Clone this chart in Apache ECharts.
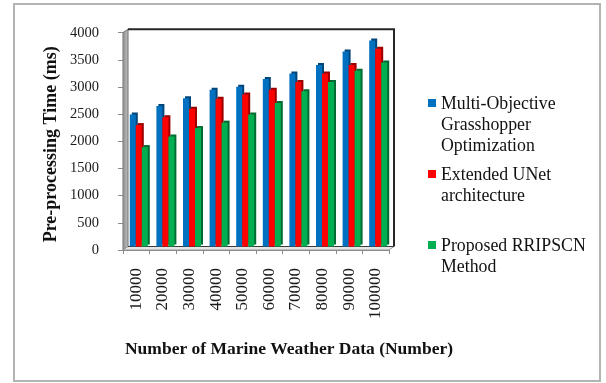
<!DOCTYPE html>
<html>
<head>
<meta charset="utf-8">
<script src="https://cdn.jsdelivr.net/npm/echarts@6/dist/echarts.min.js"></script>
<style>
  html, body { margin: 0; padding: 0; background: #fff; }
  #chart { width: 606px; height: 383px; }
</style>
</head>
<body>
<div id="chart"></div>
<script>
// Data set sizes on the category axis
const categories = ['10000', '20000', '30000', '40000', '50000', '60000', '70000', '80000', '90000', '100000'];

// Pre-processing time (ms) for each method
const mogoTimes  = [2430, 2585, 2730, 2885, 2940, 3085, 3185, 3340, 3590, 3790];
const unetTimes  = [2235, 2380, 2535, 2720, 2800, 2885, 3030, 3185, 3340, 3640];
const rripTimes  = [1830, 2025, 2180, 2280, 2430, 2640, 2860, 3030, 3235, 3385];

const seriesNames = ['Multi-Objective Grasshopper Optimization', 'Extended UNet architecture', 'Proposed RRIPSCN Method'];
const legendLines = {
  'Multi-Objective Grasshopper Optimization': 'Multi-Objective\nGrasshopper\nOptimization',
  'Extended UNet architecture': 'Extended UNet\narchitecture\n ',
  'Proposed RRIPSCN Method': 'Proposed RRIPSCN\nMethod\n '
};

const yMin = 0, yMax = 4000, yStep = 500;

// Layout of the pseudo-3D box: front axis plane and the back wall behind it
const FRONT = { left: 123, top: 32.7, width: 266, height: 217.3 };
const DX = 5, DY = -3.5;
const BACK = { left: FRONT.left + DX, top: FRONT.top + DY, width: FRONT.width, height: FRONT.height };
const BARS = { left: FRONT.left + 2.5, top: BACK.top, width: FRONT.width, height: FRONT.height };

const serif = "'Liberation Serif', 'Times New Roman', serif";
const colors = ['#0070C0', '#FF0000', '#00B050'];
const sideColors = ['#00467a', '#9a0000', '#006b32'];

function barSeries(i, values) {
  return {
    name: seriesNames[i],
    type: 'bar',
    xAxisIndex: 0,
    yAxisIndex: 0,
    data: values,
    barWidth: 6,
    barGap: '0%',
    itemStyle: {
      color: colors[i],
      shadowColor: sideColors[i],
      shadowBlur: 0,
      shadowOffsetX: 2,
      shadowOffsetY: -2
    },
    emphasis: { disabled: true }
  };
}

const fb = FRONT.top + FRONT.height;      // front floor line
const bb = BACK.top + BACK.height;        // back floor line
const br = BACK.left + BACK.width;        // back wall right edge

const chart = echarts.init(document.getElementById('chart'), null, { renderer: 'canvas' });
chart.setOption({
  animation: false,
  backgroundColor: '#ffffff',
  textStyle: { fontFamily: serif },
  grid: [
    { left: BARS.left, top: BARS.top, width: BARS.width, height: BARS.height, containLabel: false },
    { left: FRONT.left, top: FRONT.top, width: FRONT.width, height: FRONT.height, containLabel: false }
  ],
  xAxis: [
    { type: 'category', gridIndex: 0, data: categories, show: false },
    {
      type: 'category', gridIndex: 1, data: categories,
      axisLine: { lineStyle: { color: '#8a8a8a', width: 1 } },
      axisTick: { show: true, interval: 0, length: 4, lineStyle: { color: '#8a8a8a' } },
      axisLabel: { interval: 0, rotate: 90, margin: 18, fontSize: 17, color: '#1a1a1a', fontFamily: serif },
      name: 'Number of Marine Weather Data (Number)',
      nameLocation: 'middle',
      nameGap: 90,
      nameTextStyle: { fontSize: 17.5, fontWeight: 'bold', color: '#111', fontFamily: serif, padding: [0, 0, 0, 66] }
    }
  ],
  yAxis: [
    { type: 'value', gridIndex: 0, min: yMin, max: yMax, interval: yStep, show: false, splitLine: { show: false } },
    {
      type: 'value', gridIndex: 1, min: yMin, max: yMax, interval: yStep,
      axisLine: { show: true, lineStyle: { color: '#8a8a8a', width: 1 } },
      axisTick: { show: true, length: 5, lineStyle: { color: '#8a8a8a' } },
      axisLabel: { margin: 24, fontSize: 14.5, color: '#1a1a1a', fontFamily: serif, formatter: v => String(v) },
      splitLine: { show: false },
      name: 'Pre-processing Time (ms)',
      nameLocation: 'middle',
      nameGap: 63,
      nameTextStyle: { fontSize: 18, fontWeight: 'bold', color: '#111', fontFamily: serif, padding: [0, 6, 0, 0] }
    }
  ],
  legend: {
    data: seriesNames,
    orient: 'vertical',
    left: 428,
    top: 93.5,
    padding: 0,
    itemGap: 8,
    itemWidth: 8,
    itemHeight: 63,
    icon: 'path://M0,0L8,0L8,0Z M0,5.5L8,5.5L8,13.5L0,13.5Z M0,63L8,63L8,63Z',
    itemStyle: { borderWidth: 0, shadowBlur: 0, shadowOffsetX: 0, shadowOffsetY: 0, shadowColor: 'transparent' },
    formatter: name => legendLines[name],
    textStyle: { fontSize: 17.8, lineHeight: 21, color: '#111', fontFamily: serif },
    selectedMode: false
  },
  graphic: [
    // outer frame
    { type: 'rect', z: -10, shape: { x: 14, y: 4, width: 586, height: 377 },
      style: { fill: 'none', stroke: '#b3b3b3', lineWidth: 2 } },
    // left side wall
    { type: 'polygon', z: -5,
      shape: { points: [[FRONT.left, fb], [FRONT.left, FRONT.top], [BACK.left, BACK.top], [BACK.left, bb]] },
      style: { fill: new echarts.graphic.LinearGradient(0, 0, 1, 0, [
        { offset: 0, color: '#8c8c8c' }, { offset: 1, color: '#c4c4c4' }]), stroke: '#6e6e6e', lineWidth: 1 } },
    // floor
    { type: 'polygon', z: -5,
      shape: { points: [[FRONT.left, fb], [BACK.left, bb], [br, bb], [br - DX, fb]] },
      style: { fill: '#e6e6e6', stroke: '#9a9a9a', lineWidth: 1 } },
    // back wall outline
    { type: 'polyline', z: -4,
      shape: { points: [[BACK.left, BACK.top], [br, BACK.top], [br, bb]] },
      style: { stroke: '#262626', lineWidth: 2, fill: 'none' } },
    { type: 'line', z: -4,
      shape: { x1: BACK.left, y1: bb, x2: br, y2: bb },
      style: { stroke: '#3a3a3a', lineWidth: 1.2 } }
  ],
  series: [
    barSeries(0, mogoTimes),
    barSeries(1, unetTimes),
    barSeries(2, rripTimes)
  ]
});
</script>
</body>
</html>
